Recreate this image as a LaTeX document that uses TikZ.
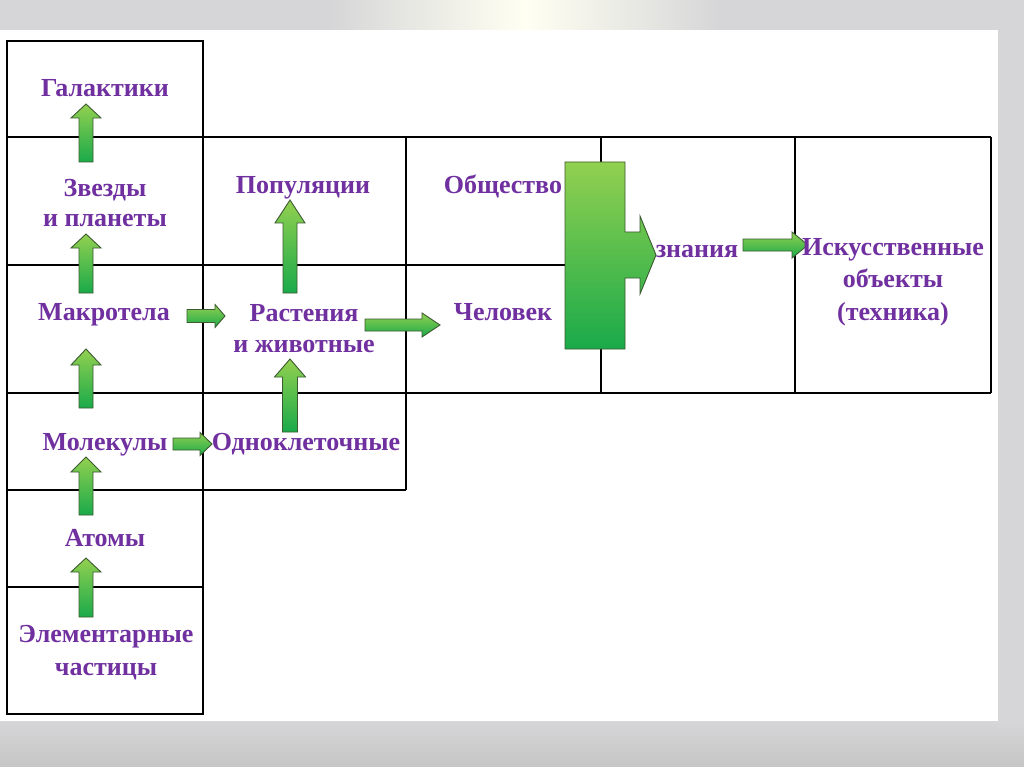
\documentclass[tikz,border=0pt]{standalone}
\usepackage{fontspec}
\setmainfont{Liberation Serif}
\definecolor{txtpurple}{HTML}{7030A0}
\definecolor{arrtop}{HTML}{92D050}
\definecolor{arrbot}{HTML}{1AAA4A}
\definecolor{arrowedge}{HTML}{3C5A30}
\definecolor{bggray}{HTML}{D6D6D8}
\tikzset{
  lbl/.style={font=\bfseries\fontsize{26}{31}\selectfont, text=txtpurple, align=center, inner sep=0pt, text height=17pt, text depth=0pt},
  lblm/.style={font=\bfseries\fontsize{26}{#1}\selectfont, text=txtpurple, align=center, inner sep=0pt},
  lblm/.default=31,
  gridline/.style={draw=black, line width=1.3pt},
  blockarr/.style={draw=arrowedge, line width=0.9pt, top color=arrtop, bottom color=arrbot, line join=miter},
}
% up block arrow: xc, ybottom, headbase, tip, shaft half, head half
\newcommand\UpArr[6]{%
  \path[blockarr] ({#1-#5},#2) -- ({#1-#5},#3) -- ({#1-#6},#3) -- (#1,#4) -- ({#1+#6},#3) -- ({#1+#5},#3) -- ({#1+#5},#2) -- cycle;}
% right block arrow: xleft, tip, yc, headbase, shaft half, head half
\newcommand\RtArr[6]{%
  \path[blockarr] (#1,{#3-#5}) -- (#4,{#3-#5}) -- (#4,{#3-#6}) -- (#2,#3) -- (#4,{#3+#6}) -- (#4,{#3+#5}) -- (#1,{#3+#5}) -- cycle;}
\begin{document}
\begin{tikzpicture}[x=1pt,y=-1pt]
\useasboundingbox (0,0) rectangle (1024,767);
% slide background
\fill[bggray] (0,0) rectangle (1024,767);
\shade[left color=bggray, right color=bggray, middle color=white!95!yellow] (330,0) rectangle (720,30);
\shade[top color=bggray, bottom color=gray!45] (0,721) rectangle (1024,767);
\fill[white] (0,30) rectangle (998,721);

% grid
\draw[gridline] (7,41) rectangle (203,714);
\draw[gridline] (7,137) -- (991,137);
\draw[gridline] (7,265) -- (566,265);
\draw[gridline] (7,393) -- (991,393);
\draw[gridline] (7,490) -- (406,490);
\draw[gridline] (7,587) -- (203,587);
\draw[gridline] (406,137) -- (406,490);
\draw[gridline] (601,137) -- (601,393);
\draw[gridline] (795,137) -- (795,393);
\draw[gridline] (991,137) -- (991,393);

% block arrows
\UpArr{86}{162}{118}{104}{7}{15}
\UpArr{86}{293}{248}{234}{7}{15}
\UpArr{86}{408}{365}{349}{7}{15}
\UpArr{86}{515}{472}{457}{7}{15}
\UpArr{86}{617}{572}{558}{7}{15}
\UpArr{290}{293}{223}{200}{7}{15}
\UpArr{290}{432}{377}{359}{7.5}{15.5}
\RtArr{187}{225}{316}{215}{6.5}{11.5}
\RtArr{173}{212}{444}{200}{6}{11.5}
\RtArr{365}{440}{325}{422}{6}{12}
\RtArr{743}{808}{245}{792}{6}{13}

% big arrow (Общество / Человек -> знания)
\path[blockarr] (565,162) -- (625,162) -- (625,232) -- (640,232) -- (640,216) -- (656,255)
  -- (640,294) -- (640,278) -- (625,278) -- (625,349) -- (565,349) -- cycle;

% labels
\node[lbl] (gal) at (105,88) {Галактики};
\node[lblm=30] (zvezdy) at (105,203) {Звезды\\и планеты};
\node[lbl] (makro) at (104,312) {Макротела};
\node[lbl] (molek) at (105,442) {Молекулы};
\node[lbl] (atomy) at (105,538) {Атомы};
\node[lblm=33] (elem) at (106,653) {Элементарные\\частицы};
\node[lbl] (popul) at (303,185) {Популяции};
\node[lblm=31] (rast) at (304,329) {Растения\\и животные};
\node[lbl] (odnokl) at (306,442) {Одноклеточные};
\node[lbl] (obsch) at (503,185) {Общество};
\node[lbl] (chel) at (503,312) {Человек};
\node[lbl] (znan) at (697,249) {знания};
\node[lblm=32.5] (iskus) at (893,282) {Искусственные\\объекты\\(техника)};
\end{tikzpicture}
\end{document}
